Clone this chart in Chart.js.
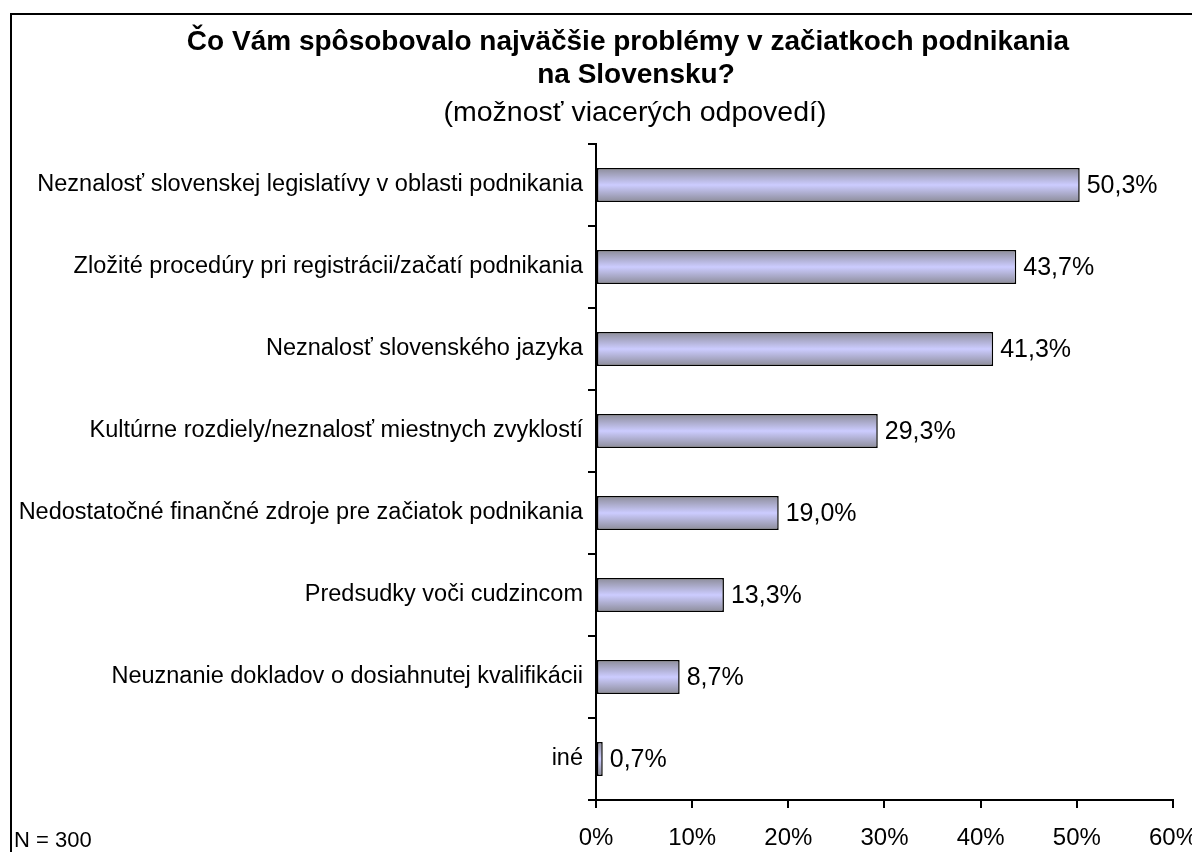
<!DOCTYPE html>
<html>
<head>
<meta charset="utf-8">
<script src="https://cdn.jsdelivr.net/npm/chart.js@4"></script>
<style>
  html, body { margin: 0; padding: 0; background: #fff; overflow: hidden; }
  #wrap { position: relative; width: 1192px; height: 852px; overflow: hidden; }
  #frame { position: absolute; left: 10px; top: 13px; width: 1300px; height: 1000px;
           border: 2px solid #000; box-shadow: 1px 1px 0 #aaa; }
  #chart { position: absolute; left: 0; top: 0; }
  #note { position: absolute; left: 14px; top: 827px; font: 22px "Liberation Sans", Arial, sans-serif; }
</style>
</head>
<body>
<div id="wrap">
  <div id="frame"></div>
  <canvas id="chart" width="1213" height="852"></canvas>
  <div id="note">N = 300</div>
</div>
<script>
const categories = [
  'Neznalosť slovenskej legislatívy v oblasti podnikania',
  'Zložité procedúry pri registrácii/začatí podnikania',
  'Neznalosť slovenského jazyka',
  'Kultúrne rozdiely/neznalosť miestnych zvyklostí',
  'Nedostatočné finančné zdroje pre začiatok podnikania',
  'Predsudky voči cudzincom',
  'Neuznanie dokladov o dosiahnutej kvalifikácii',
  'iné'
];
const shares = [50.3, 43.7, 41.3, 29.3, 19.0, 13.3, 8.7, 0.7];
const xTicks = [0, 10, 20, 30, 40, 50, 60];

const titleLines = ['Čo Vám spôsobovalo najväčšie problémy v začiatkoch podnikania', 'na Slovensku?'];
const subtitleText = '(možnosť viacerých odpovedí)';

const fontFamily = '"Liberation Sans", Arial, sans-serif';
const barPct = 0.415;

// gray edges, lavender middle, one gradient per bar
function barFill(ctx) {
  const chart = ctx.chart;
  const y = chart.scales.y;
  if (!chart.chartArea || !y) return '#ccccff';
  const center = y.getPixelForValue(ctx.dataIndex);
  const half = Math.abs(y.getPixelForValue(1) - y.getPixelForValue(0)) * barPct / 2;
  const g = chart.ctx.createLinearGradient(0, center - half, 0, center + half);
  g.addColorStop(0, '#8c8c99');
  g.addColorStop(0.5, '#ccccff');
  g.addColorStop(1, '#8c8c99');
  return g;
}

// title block, centred a bit right of the canvas middle like the original
const titleBlock = {
  id: 'titleBlock',
  afterDraw(chart) {
    const c = chart.ctx;
    c.save();
    c.fillStyle = '#000';
    c.textAlign = 'center';
    c.textBaseline = 'alphabetic';
    c.font = 'bold 28px ' + fontFamily;
    c.fillText(titleLines[0], 628, 50);
    c.fillText(titleLines[1], 636, 83);
    c.font = '28.5px ' + fontFamily;
    c.fillText(subtitleText, 635, 121);
    c.restore();
  }
};

// value labels next to the bars
const valueLabels = {
  id: 'valueLabels',
  afterDatasetsDraw(chart) {
    const c = chart.ctx;
    c.save();
    c.font = '25px ' + fontFamily;
    c.fillStyle = '#000';
    c.textBaseline = 'middle';
    chart.getDatasetMeta(0).data.forEach((bar, i) => {
      c.fillText(shares[i].toFixed(1).replace('.', ',') + '%', bar.x + 7, bar.y + 1);
    });
    c.restore();
  }
};

new Chart(document.getElementById('chart'), {
  type: 'bar',
  data: {
    labels: categories,
    datasets: [{
      data: shares,
      backgroundColor: barFill,
      borderColor: '#000',
      borderWidth: 1.5,
      borderSkipped: false,
      categoryPercentage: 1,
      barPercentage: barPct
    }]
  },
  plugins: [valueLabels, titleBlock],
  options: {
    indexAxis: 'y',
    responsive: false,
    animation: false,
    layout: { padding: { left: 0, right: 0, top: 144, bottom: 0 } },
    plugins: {
      legend: { display: false },
      tooltip: { enabled: false },
      title: { display: false }
    },
    scales: {
      x: {
        min: 0,
        max: 60,
        afterBuildTicks: s => { s.ticks = xTicks.map(v => ({ value: v })); },
        afterFit: s => { s.height = 52; },
        ticks: {
          color: '#000',
          font: { family: fontFamily, size: 24 },
          padding: 16,
          maxRotation: 0,
          callback: v => v + '%'
        },
        grid: { display: true, drawOnChartArea: false, color: '#000', lineWidth: 2, tickLength: 8 },
        border: { color: '#000', width: 2 }
      },
      y: {
        afterFit: s => { s.width = 596; },
        ticks: {
          color: '#000',
          font: { family: fontFamily, size: 23.5 },
          padding: 5
        },
        grid: { display: true, drawOnChartArea: false, offset: true, color: '#000', lineWidth: 2, tickLength: 8 },
        border: { color: '#000', width: 2 }
      }
    }
  }
});
</script>
</body>
</html>
